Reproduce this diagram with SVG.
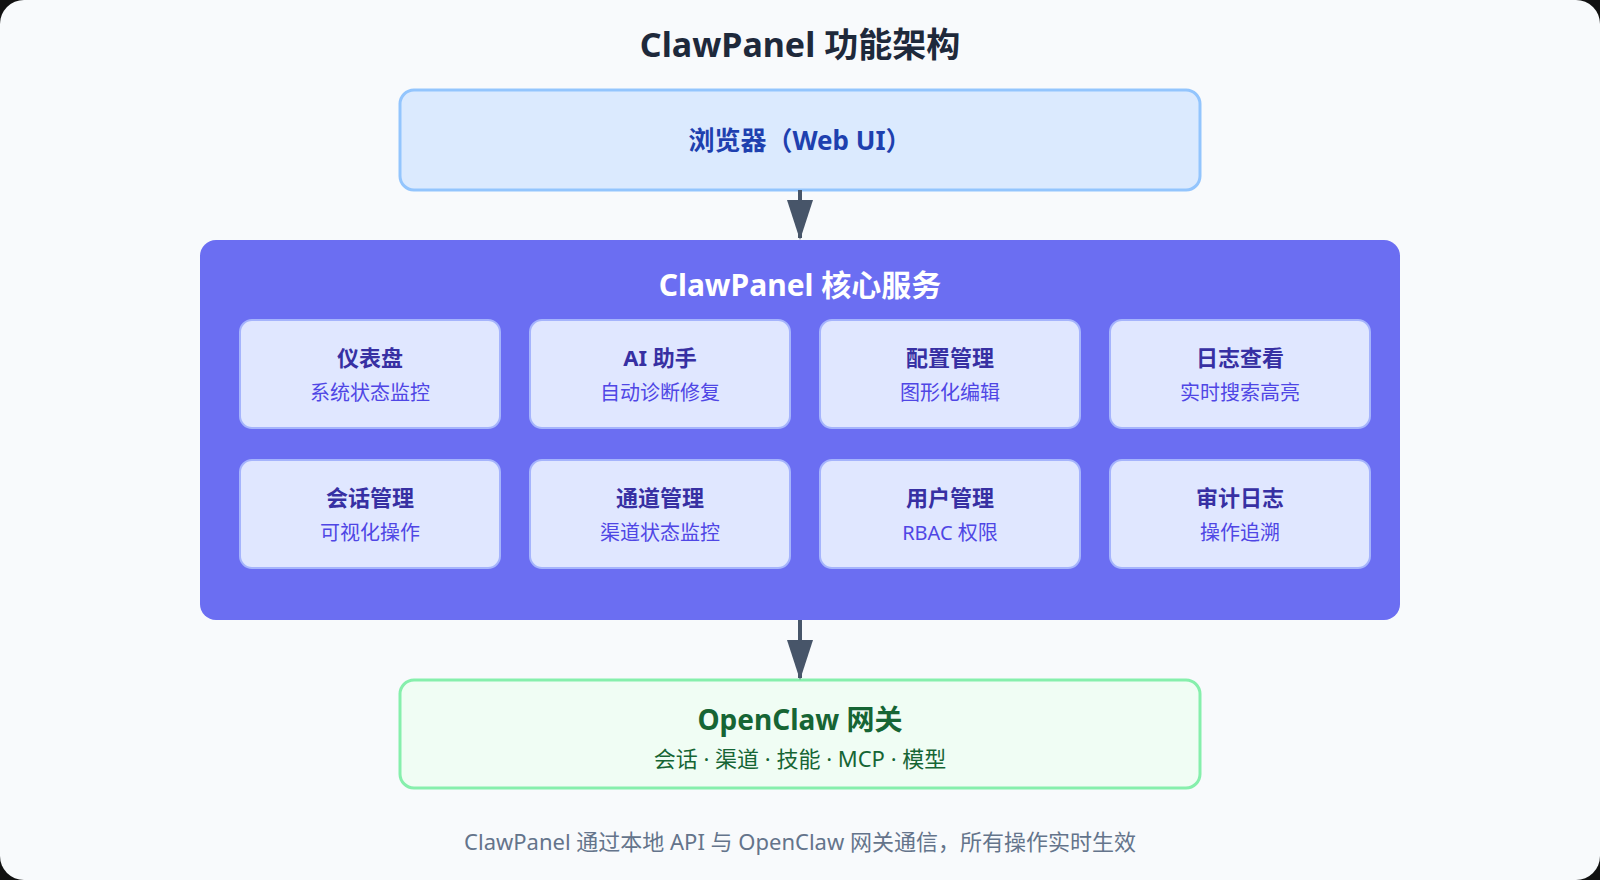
<svg xmlns="http://www.w3.org/2000/svg" width="1600" height="880" viewBox="0 0 1600 880">
<defs>
<style>
.t{font-family:"Noto Sans","Noto Sans CJK SC",sans-serif;text-anchor:middle}
.card rect{fill:#e0e7ff;stroke:#a5b4fc;stroke-width:2}
.ct{font-size:22px;font-weight:700;fill:#3730a3}
.cs{font-size:20px;fill:#4f46e5}
.conn line{stroke:#475569;stroke-width:4}
.conn polygon{fill:#475569}
</style>
</defs>
<rect x="0" y="0" width="1600" height="880" fill="#111"/>
<rect x="0" y="0" width="1600" height="880" rx="24" fill="#f8fafc"/>
<text class="t" x="800" y="57" font-size="34" font-weight="700" fill="#1e293b">ClawPanel 功能架构</text>

<g id="browser">
<rect x="400" y="90" width="800" height="100" rx="14" fill="#dbeafe" stroke="#93c5fd" stroke-width="3"/>
<text class="t" x="800" y="150" font-size="26" font-weight="700" fill="#1e40af">浏览器（Web UI）</text>
</g>

<g id="core">
<rect x="200" y="240" width="1200" height="380" rx="16" fill="#6b6ef2"/>
<text class="t" x="800" y="296" font-size="30" font-weight="700" fill="#ffffff">ClawPanel 核心服务</text>
</g>

<g id="dashboard" class="card"><rect x="240" y="320" width="260" height="108" rx="12"/><text class="t ct" x="370" y="366">仪表盘</text><text class="t cs" x="370" y="400">系统状态监控</text></g>
<g id="ai" class="card"><rect x="530" y="320" width="260" height="108" rx="12"/><text class="t ct" x="660" y="366">AI 助手</text><text class="t cs" x="660" y="400">自动诊断修复</text></g>
<g id="config" class="card"><rect x="820" y="320" width="260" height="108" rx="12"/><text class="t ct" x="950" y="366">配置管理</text><text class="t cs" x="950" y="400">图形化编辑</text></g>
<g id="logs" class="card"><rect x="1110" y="320" width="260" height="108" rx="12"/><text class="t ct" x="1240" y="366">日志查看</text><text class="t cs" x="1240" y="400">实时搜索高亮</text></g>
<g id="sessions" class="card"><rect x="240" y="460" width="260" height="108" rx="12"/><text class="t ct" x="370" y="506">会话管理</text><text class="t cs" x="370" y="540">可视化操作</text></g>
<g id="channels" class="card"><rect x="530" y="460" width="260" height="108" rx="12"/><text class="t ct" x="660" y="506">通道管理</text><text class="t cs" x="660" y="540">渠道状态监控</text></g>
<g id="users" class="card"><rect x="820" y="460" width="260" height="108" rx="12"/><text class="t ct" x="950" y="506">用户管理</text><text class="t cs" x="950" y="540">RBAC 权限</text></g>
<g id="audit" class="card"><rect x="1110" y="460" width="260" height="108" rx="12"/><text class="t ct" x="1240" y="506">审计日志</text><text class="t cs" x="1240" y="540">操作追溯</text></g>

<g id="gateway">
<rect x="400" y="680" width="800" height="108" rx="14" fill="#f0fdf4" stroke="#86efac" stroke-width="3"/>
<text class="t" x="800" y="730" font-size="28" font-weight="700" fill="#166534">OpenClaw 网关</text>
<text class="t" x="800" y="767" font-size="22" fill="#166534">会话 · 渠道 · 技能 · MCP · 模型</text>
</g>

<g id="connectors" class="conn">
<line x1="800" y1="190" x2="800" y2="238"/>
<polygon points="787,200 813,200 800,240"/>
<line x1="800" y1="620" x2="800" y2="678"/>
<polygon points="787,640 813,640 800,680"/>
</g>

<text class="t" x="800" y="850" font-size="22" fill="#64748b">ClawPanel 通过本地 API 与 OpenClaw 网关通信，所有操作实时生效</text>
</svg>
